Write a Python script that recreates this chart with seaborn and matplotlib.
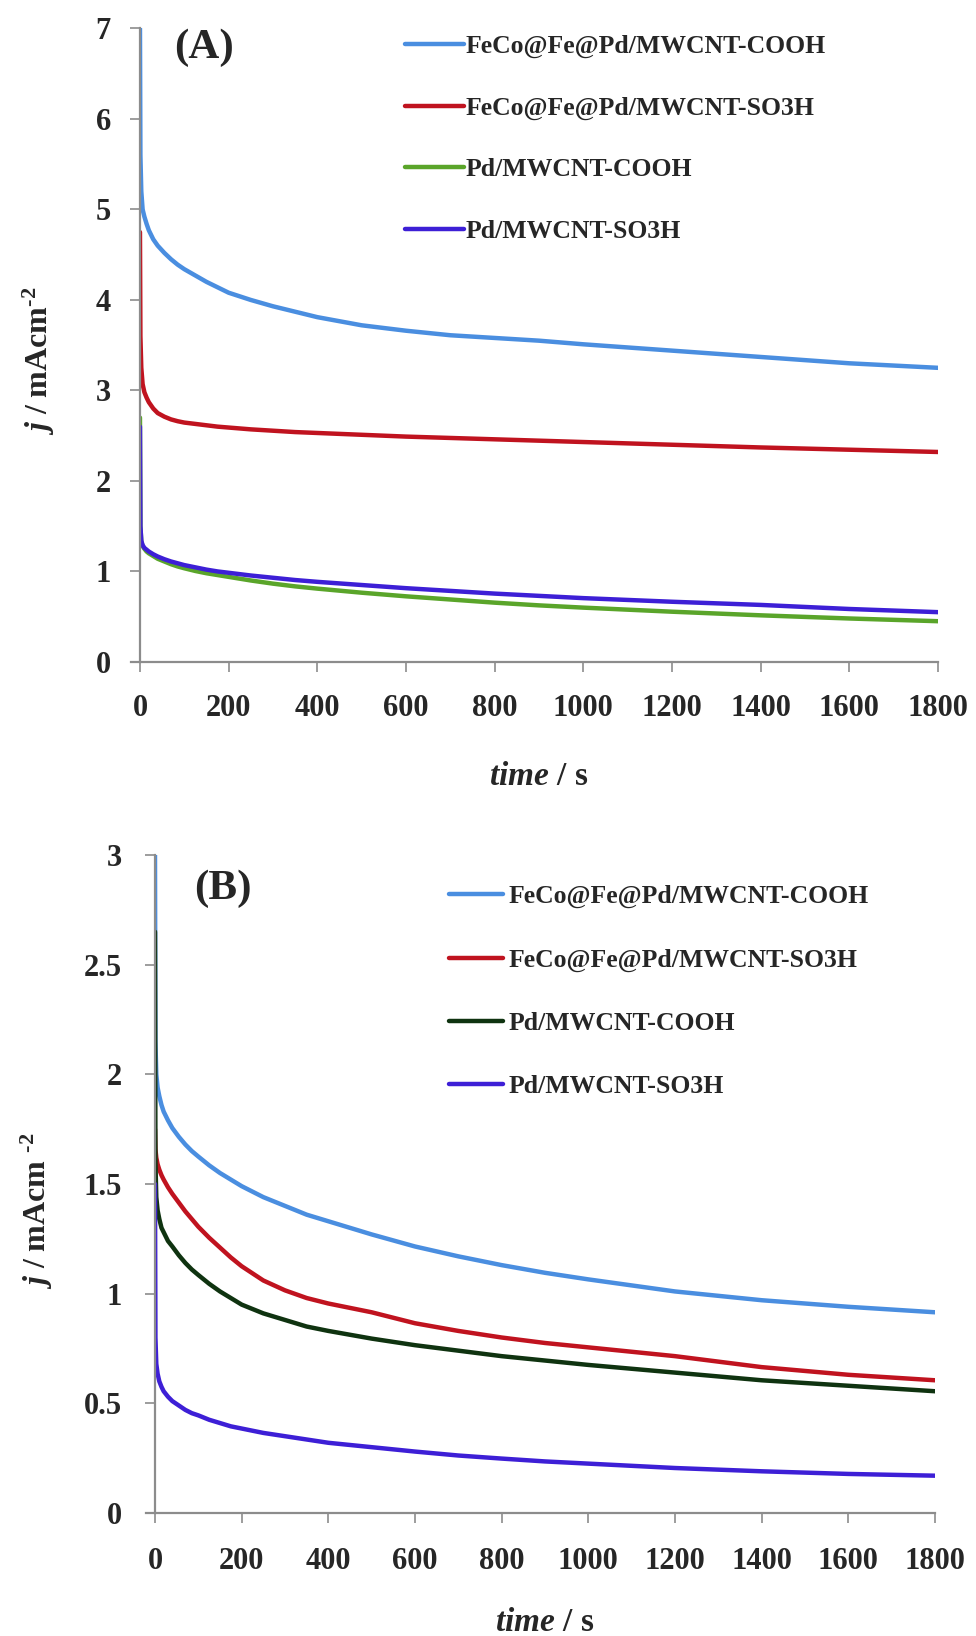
import numpy as np
import pandas as pd
import matplotlib
matplotlib.use('Agg')
import matplotlib.pyplot as plt
from matplotlib.ticker import FuncFormatter
import seaborn as sns

# ---------------------------------------------------------------
# values (j in mA cm^-2, t in s)
samples = ['FeCo@Fe@Pd/MWCNT-COOH', 'FeCo@Fe@Pd/MWCNT-SO3H',
           'Pd/MWCNT-COOH', 'Pd/MWCNT-SO3H']

t_s = [0, 1, 3, 6, 10, 15, 20, 30, 40, 55, 70, 85, 100, 125, 150, 175, 200,
       250, 300, 350, 400, 500, 600, 700, 800, 900, 1000, 1200, 1400, 1600, 1800]

# panel (A)
jA_feco_cooh = [7.0, 5.6, 5.2, 5.0, 4.92, 4.84, 4.77, 4.67, 4.6, 4.52, 4.45, 4.39,
                4.34, 4.27, 4.2, 4.14, 4.08, 4.0, 3.93, 3.87, 3.81, 3.72, 3.66,
                3.61, 3.58, 3.55, 3.51, 3.44, 3.37, 3.3, 3.25]
jA_feco_so3h = [4.75, 3.6, 3.25, 3.07, 2.98, 2.92, 2.87, 2.8, 2.75, 2.71, 2.68, 2.66,
                2.645, 2.63, 2.615, 2.6, 2.59, 2.57, 2.555, 2.54, 2.53, 2.51, 2.49,
                2.475, 2.46, 2.445, 2.43, 2.4, 2.37, 2.345, 2.32]
jA_pd_cooh = [2.7, 1.5, 1.33, 1.28, 1.25, 1.22, 1.2, 1.17, 1.14, 1.11, 1.08, 1.055,
              1.035, 1.005, 0.98, 0.96, 0.94, 0.9, 0.865, 0.835, 0.81, 0.765, 0.725,
              0.69, 0.655, 0.625, 0.6, 0.555, 0.515, 0.48, 0.45]
jA_pd_so3h = [2.6, 1.5, 1.34, 1.29, 1.26, 1.24, 1.22, 1.19, 1.165, 1.135, 1.11, 1.09,
              1.07, 1.045, 1.02, 1.0, 0.985, 0.955, 0.93, 0.905, 0.885, 0.85, 0.815,
              0.785, 0.755, 0.73, 0.705, 0.665, 0.63, 0.585, 0.55]

# panel (B)
jB_feco_cooh = [3.0, 2.15, 2.0, 1.94, 1.9, 1.86, 1.83, 1.79, 1.755, 1.715, 1.68, 1.65,
                1.625, 1.585, 1.55, 1.52, 1.49, 1.44, 1.4, 1.36, 1.33, 1.27, 1.215,
                1.17, 1.13, 1.095, 1.065, 1.01, 0.97, 0.94, 0.915]
jB_feco_so3h = [1.75, 1.66, 1.62, 1.59, 1.565, 1.54, 1.52, 1.485, 1.455, 1.415, 1.375,
                1.34, 1.305, 1.255, 1.21, 1.165, 1.125, 1.06, 1.015, 0.98, 0.955,
                0.915, 0.865, 0.83, 0.8, 0.775, 0.755, 0.715, 0.665, 0.63, 0.605]
jB_pd_cooh = [2.65, 1.6, 1.44, 1.38, 1.34, 1.3, 1.28, 1.24, 1.215, 1.175, 1.14, 1.11,
              1.085, 1.045, 1.01, 0.98, 0.95, 0.91, 0.88, 0.85, 0.83, 0.795, 0.765,
              0.74, 0.715, 0.695, 0.675, 0.64, 0.605, 0.58, 0.555]
jB_pd_so3h = [1.5, 0.8, 0.68, 0.635, 0.6, 0.575, 0.555, 0.53, 0.51, 0.49, 0.47, 0.455,
              0.445, 0.425, 0.41, 0.395, 0.385, 0.365, 0.35, 0.335, 0.32, 0.3, 0.28,
              0.262, 0.248, 0.235, 0.225, 0.205, 0.19, 0.178, 0.17]

colorsA = ['#4a8ee0', '#c0131f', '#5aa52a', '#3d1fd6']
colorsB = ['#4a8ee0', '#c0131f', '#0f3310', '#3d1fd6']


def long_df(series):
    rows = []
    for name, vals in zip(samples, series):
        rows.append(pd.DataFrame({'t': t_s, 'j': vals, 'sample': name}))
    return pd.concat(rows, ignore_index=True)


dfA = long_df([jA_feco_cooh, jA_feco_so3h, jA_pd_cooh, jA_pd_so3h])
dfB = long_df([jB_feco_cooh, jB_feco_so3h, jB_pd_cooh, jB_pd_so3h])

# ---------------------------------------------------------------
sns.set_style('white')
plt.rcParams['font.family'] = ['Liberation Serif', 'DejaVu Serif']
plt.rcParams['font.weight'] = 'bold'
plt.rcParams['mathtext.fontset'] = 'custom'
plt.rcParams['mathtext.rm'] = 'Liberation Serif:bold'
plt.rcParams['mathtext.it'] = 'Liberation Serif:italic:bold'
plt.rcParams['mathtext.bf'] = 'Liberation Serif:bold'

fig = plt.figure(figsize=(9.76, 16.36), dpi=100)
axA = fig.add_axes([0.1434, 0.5954, 0.8176, 0.3872])
axB = fig.add_axes([0.1588, 0.0752, 0.7992, 0.4022])

gray = '#8c8c8c'


def style_axes(ax, ymax, ystep, ytick_pad, xtick_pad, ticklen):
    ax.set_xlim(0, 1800)
    ax.set_ylim(0, ymax)
    ax.set_xticks(np.arange(0, 1801, 200))
    ax.set_yticks(np.arange(0, ymax + 1e-9, ystep))
    ax.yaxis.set_major_formatter(FuncFormatter(lambda v, p: '{:g}'.format(v)))
    for s in ['top', 'right']:
        ax.spines[s].set_visible(False)
    for s in ['left', 'bottom']:
        ax.spines[s].set_color(gray)
        ax.spines[s].set_linewidth(1.6)
    ax.spines['bottom'].set_bounds(-20, 1800)
    ax.tick_params(axis='both', direction='out', color=gray, width=1.2,
                   length=ticklen, labelsize=22, left=True, bottom=True)
    ax.tick_params(axis='y', pad=ytick_pad)
    ax.tick_params(axis='x', pad=xtick_pad)
    for lab in ax.get_xticklabels() + ax.get_yticklabels():
        lab.set_fontweight('bold')


for ax, df, cols in [(axA, dfA, colorsA), (axB, dfB, colorsB)]:
    sns.lineplot(data=df, x='t', y='j', hue='sample', hue_order=samples,
                 palette=cols, linewidth=3.2, errorbar=None, sort=False, ax=ax)

style_axes(axA, 7, 1, 14, 16, 7)
style_axes(axB, 3, 0.5, 16.5, 17.5, 7)

# legends
legend_font = {'family': 'Liberation Serif', 'weight': 'bold', 'size': 18.5}
handles, labels = axA.get_legend_handles_labels()
axA.legend(handles, labels, loc='upper left', bbox_to_anchor=(0.332, 0.99),
           frameon=False, borderpad=0, borderaxespad=0, handlelength=2.3,
           handletextpad=0.05, labelspacing=1.5, prop=legend_font)
handles, labels = axB.get_legend_handles_labels()
axB.legend(handles, labels, loc='upper left', bbox_to_anchor=(0.377, 0.954),
           frameon=False, borderpad=0, borderaxespad=0, handlelength=2.1,
           handletextpad=0.2, labelspacing=1.56, prop=legend_font)

# panel letters
axA.text(0.043, 0.969, '(A)', transform=axA.transAxes, fontsize=31,
         fontweight='bold', va='center', ha='left')
axB.text(0.05, 0.948, '(B)', transform=axB.transAxes, fontsize=31,
         fontweight='bold', va='center', ha='left')

# axis labels
axA.set_ylabel(r'$j$ / mAcm$^{\text{-2}}$', fontsize=23, fontweight='bold')
axA.yaxis.set_label_coords(-0.104, 0.476)
axA.set_xlabel(r'$time$ / s', fontsize=24, fontweight='bold', labelpad=27.5)

axB.set_ylabel(r'$j$ / mAcm $^{\text{-2}}$', fontsize=23, fontweight='bold')
axB.yaxis.set_label_coords(-0.128, 0.46)
axB.set_xlabel(r'$time$ / s', fontsize=24, fontweight='bold', labelpad=22)

fig.savefig('out.png', dpi=100)
